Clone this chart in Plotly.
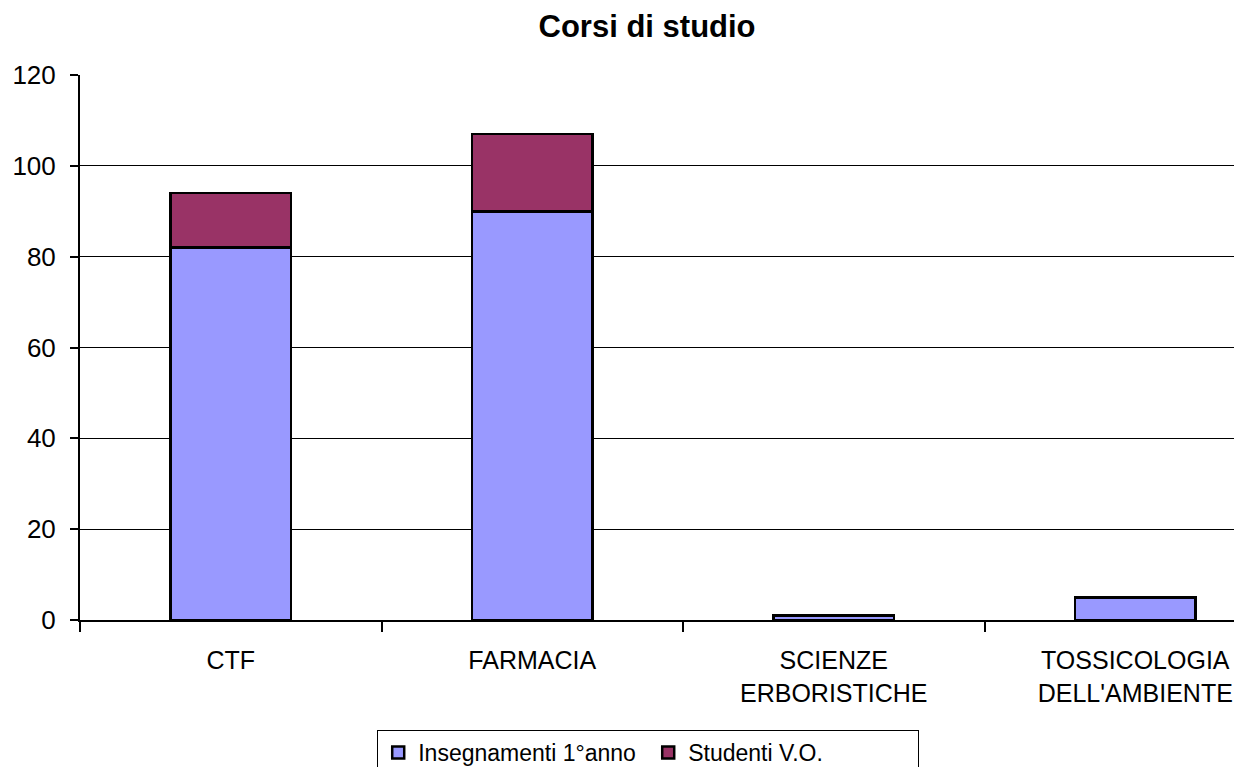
import plotly.graph_objects as go

categories = ["CTF", "FARMACIA", "SCIENZE<br>ERBORISTICHE", "TOSSICOLOGIA<br>DELL'AMBIENTE"]
insegnamenti = [82, 90, 1, 5]
studenti_vo = [12, 17, 0, 0]
y_ticks = [0, 20, 40, 60, 80, 100, 120]

FONT = "Arial, Liberation Sans, sans-serif"
W, H = 1234, 759  # page has 8px body margin

fig = go.Figure()
fig.add_trace(go.Bar(
    x=categories, y=insegnamenti, name="Insegnamenti 1°anno",
    marker=dict(color="#9999FF", line=dict(color="black", width=2.5)),
    width=0.4,
))
fig.add_trace(go.Bar(
    x=categories, y=studenti_vo, name="Studenti V.O.",
    marker=dict(color="#993366", line=dict(color="black", width=2.5)),
    width=0.4,
))

fig.update_layout(
    barmode="stack",
    width=W, height=H,
    paper_bgcolor="white", plot_bgcolor="white",
    margin=dict(l=72, r=0, t=67, b=147, autoexpand=False),
    title=dict(text="<b>Corsi di studio</b>", x=0.488, xref="paper", xanchor="center",
               y=1 - 18 / H, yanchor="middle",
               font=dict(family=FONT, size=31, color="black")),
    font=dict(family=FONT, size=20, color="black"),
    showlegend=True,
    legend=dict(orientation="h", x=0.489, xanchor="center", y=-0.2018, yanchor="top",
                bordercolor="black", borderwidth=1, bgcolor="white",
                font=dict(family=FONT, size=23, color="black"),
                traceorder="normal", itemwidth=30,
                entrywidth=225, entrywidthmode="pixels"),
)

fig.update_xaxes(
    type="category", range=[-0.5, 3.354],
    showline=True, linecolor="black", linewidth=2,
    ticks="outside", tickson="boundaries", ticklen=10, tickcolor="black", tickwidth=2,
    ticklabelstandoff=17,
    showgrid=False, tickfont=dict(family=FONT, size=25, color="black"),
)
fig.update_yaxes(
    range=[0, 120], tickvals=y_ticks,
    showline=True, linecolor="black", linewidth=2,
    ticks="outside", ticklen=8, tickcolor="black", tickwidth=2,
    ticklabelstandoff=9,
    showgrid=True, gridcolor="black", gridwidth=1,
    zeroline=False,
    tickfont=dict(family=FONT, size=26, color="black"),
)

fig.write_html("out.html")
